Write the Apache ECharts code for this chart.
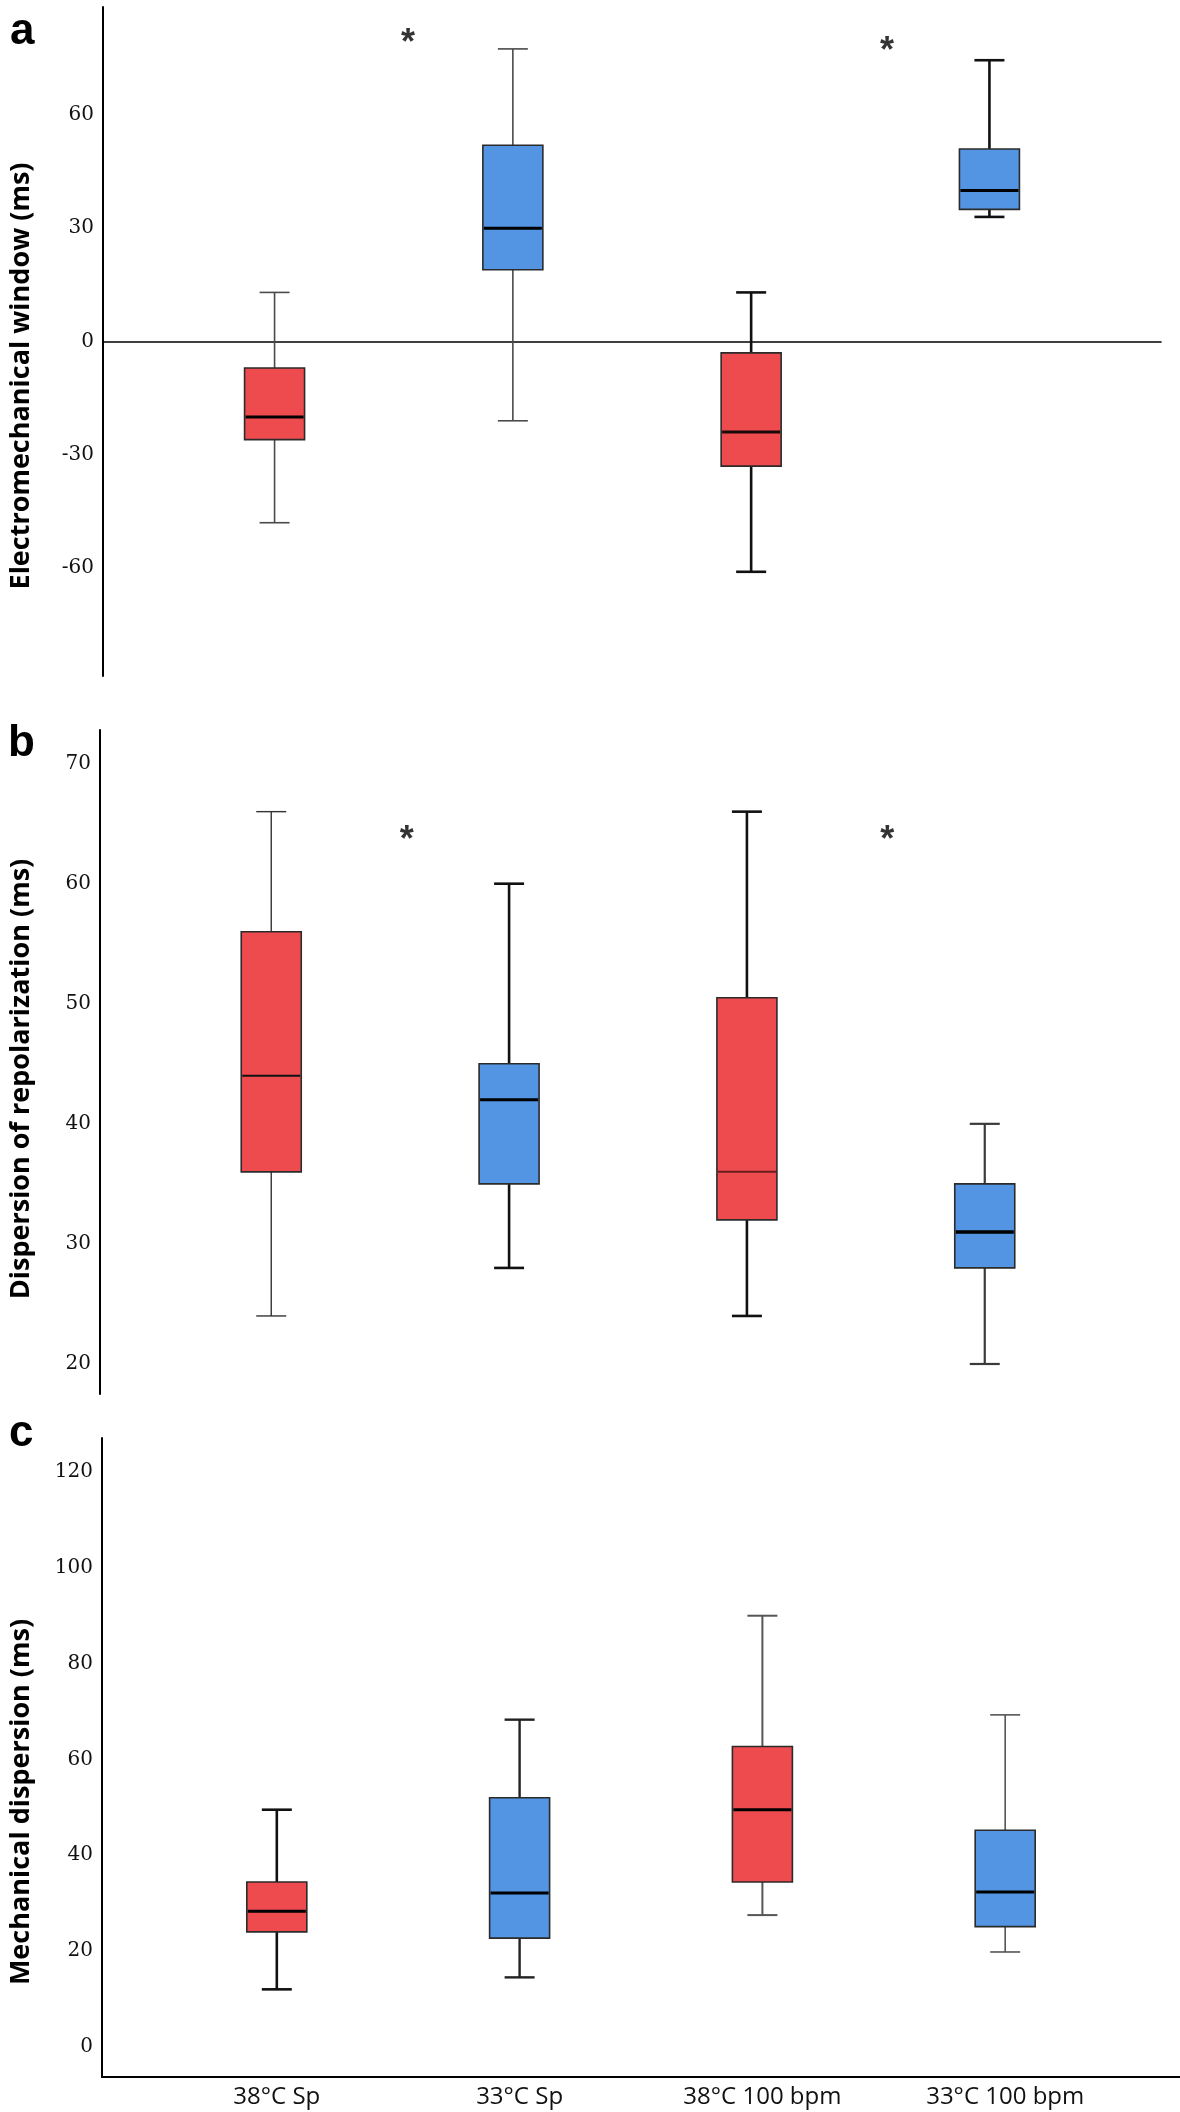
<!DOCTYPE html>
<html>
<head>
<meta charset="utf-8">
<script src="https://cdn.jsdelivr.net/npm/echarts@6/dist/echarts.min.js"></script>
<style>
html,body{margin:0;padding:0;background:#ffffff;}
#chart{width:1180px;height:2112px;}
</style>
</head>
<body>
<div id="chart"></div>
<script>
// ---------------- data ----------------
const categories = ['38°C Sp', '33°C Sp', '38°C 100 bpm', '33°C 100 bpm'];
// each row: [min, Q1, median, Q3, max]
const emWindow = [
  [-48, -26, -20, -7, 13],
  [-21, 19, 30, 52, 77.5],
  [-61, -33, -24, -3, 13],
  [33, 35, 40, 51, 74.5]
];
const repolDispersion = [
  [24, 36, 44, 56, 66],
  [28, 35, 42, 45, 60],
  [24, 32, 36, 50.5, 66],
  [20, 28, 31, 35, 40]
];
const mechDispersion = [
  [12, 24, 28.3, 34.4, 49.5],
  [14.5, 22.7, 32.1, 52, 68.3],
  [27.5, 34.4, 49.5, 62.7, 90],
  [19.8, 25.1, 32.3, 45.2, 69.3]
];
const emWindowTicks = [-60, -30, 0, 30, 60];
const repolTicks = [20, 30, 40, 50, 60, 70];
const mechTicks = [0, 20, 40, 60, 80, 100, 120];
// significance markers: [category position, value]
const sigA = [[0.56, 80.9], [2.57, 78.9]];
const sigB = [[0.57, 64.2], [2.59, 64.2]];

// ---------------- styles ----------------
const RED = '#EE4B4F', BLUE = '#5394E3';
const fills = [RED, BLUE, RED, BLUE];
const boxStylesA = [
  {wc: '#4a4a4a', ww: 1.6, mc: '#000', mw: 3},
  {wc: '#4a4a4a', ww: 1.6, mc: '#000', mw: 3},
  {wc: '#111', ww: 2.6, mc: '#1a0a0a', mw: 3},
  {wc: '#111', ww: 2.6, mc: '#000', mw: 3}
];
const boxStylesB = [
  {wc: '#333', ww: 1.4, mc: '#111', mw: 2},
  {wc: '#111', ww: 2.6, mc: '#000', mw: 3},
  {wc: '#111', ww: 2.6, mc: '#6a1c1e', mw: 2},
  {wc: '#3a3a3a', ww: 2.2, mc: '#000', mw: 3.5}
];
const boxStylesC = [
  {wc: '#111', ww: 2.6, mc: '#000', mw: 3},
  {wc: '#222', ww: 2.4, mc: '#000', mw: 3},
  {wc: '#555', ww: 2, mc: '#000', mw: 3},
  {wc: '#555', ww: 1.6, mc: '#000', mw: 3}
];
const BOX_HALF = 30, CAP_HALF = 15;

function boxRenderer(styles) {
  return function (params, api) {
    const i = params.dataIndex;
    const x = api.value(0);
    const pMin = api.coord([x, api.value(1)]);
    const pQ1 = api.coord([x, api.value(2)]);
    const pMed = api.coord([x, api.value(3)]);
    const pQ3 = api.coord([x, api.value(4)]);
    const pMax = api.coord([x, api.value(5)]);
    const s = styles[i];
    const cx = pMed[0];
    const ws = {stroke: s.wc, lineWidth: s.ww};
    return {
      type: 'group',
      children: [
        {type: 'line', shape: {x1: cx, y1: pQ3[1], x2: cx, y2: pMax[1]}, style: ws},
        {type: 'line', shape: {x1: cx, y1: pQ1[1], x2: cx, y2: pMin[1]}, style: ws},
        {type: 'line', shape: {x1: cx - CAP_HALF, y1: pMax[1], x2: cx + CAP_HALF, y2: pMax[1]}, style: ws},
        {type: 'line', shape: {x1: cx - CAP_HALF, y1: pMin[1], x2: cx + CAP_HALF, y2: pMin[1]}, style: ws},
        {type: 'rect', shape: {x: cx - BOX_HALF, y: pQ3[1], width: 2 * BOX_HALF, height: pQ1[1] - pQ3[1]},
          style: {fill: fills[i], stroke: '#2b2b2b', lineWidth: 1.6}},
        {type: 'line', shape: {x1: cx - BOX_HALF + 1, y1: pMed[1], x2: cx + BOX_HALF - 1, y2: pMed[1]},
          style: {stroke: s.mc, lineWidth: s.mw}}
      ]
    };
  };
}

function boxSeries(idx, values, styles) {
  return {
    type: 'custom',
    xAxisIndex: idx, yAxisIndex: idx,
    data: values.map((v, i) => [i].concat(v)),
    encode: {x: 0, y: [1, 2, 3, 4, 5]},
    renderItem: boxRenderer(styles),
    clip: false,
    silent: true
  };
}

function sigSeries(idx, pts) {
  return {
    type: 'scatter',
    xAxisIndex: idx, yAxisIndex: idx,
    data: pts,
    symbolSize: 1,
    itemStyle: {color: 'rgba(0,0,0,0)'},
    silent: true,
    label: {
      show: true, position: 'inside', formatter: '*',
      fontFamily: 'Liberation Sans', fontWeight: 'bold', fontSize: 36, color: '#000',
      offset: [0, 8]
    }
  };
}

function yAxisDef(idx, min, max, ticks, splitNumber) {
  return {
    type: 'value', gridIndex: idx, min: min, max: max, splitNumber: splitNumber,
    axisLine: {show: true, onZero: false, lineStyle: {color: '#000', width: 2}},
    axisTick: {show: false},
    splitLine: {show: false},
    axisLabel: {
      customValues: ticks,
      formatter: function (v) {
        const r = Math.round(v * 1000) / 1000;
        return ticks.indexOf(r) >= 0 ? String(r) : '';
      },
      fontFamily: 'DejaVu Serif', fontSize: 20, color: '#111', margin: 9
    }
  };
}

function xAxisDef(idx, showLine, onZero, showLabels) {
  return {
    type: 'value', gridIndex: idx, min: -0.72, max: 3.72,
    minInterval: 1, maxInterval: 1,
    axisLine: {show: showLine, onZero: onZero, lineStyle: {color: '#000', width: onZero ? 1.6 : 2}},
    axisTick: {show: false},
    splitLine: {show: false},
    axisLabel: {
      show: showLabels,
      customValues: [0, 1, 2, 3],
      formatter: function (v) {
        const r = Math.round(v * 1000) / 1000;
        return (Number.isInteger(r) && r >= 0 && r < categories.length) ? categories[r] : '';
      },
      fontFamily: 'Open Sans', fontSize: 24, color: '#111', margin: 8
    }
  };
}

const chart = echarts.init(document.getElementById('chart'), null, {renderer: 'canvas'});

const titleFont = {fontFamily: 'Open Sans', fontWeight: 'bold', fontSize: 27, fill: '#000'};
const letterFont = {fontFamily: 'Liberation Sans', fontWeight: 'bold', fontSize: 44, fill: '#000'};

chart.setOption({
  animation: false,
  backgroundColor: '#ffffff',
  grid: [
    {left: 103, top: 7, width: 1058, height: 669},
    {left: 100, top: 730, width: 1056, height: 664},
    {left: 102, top: 1438, width: 1078, height: 639}
  ],
  xAxis: [
    xAxisDef(0, true, true, false),
    xAxisDef(1, false, false, false),
    xAxisDef(2, true, false, true)
  ],
  yAxis: [
    yAxisDef(0, -88.6, 88.6, emWindowTicks, 5),
    yAxisDef(1, 17.5, 72.8, repolTicks, 5),
    yAxisDef(2, -6.3, 127.1, mechTicks, 7)
  ],
  series: [
    boxSeries(0, emWindow, boxStylesA),
    boxSeries(1, repolDispersion, boxStylesB),
    boxSeries(2, mechDispersion, boxStylesC),
    sigSeries(0, sigA),
    sigSeries(1, sigB)
  ],
  graphic: [
    {type: 'text', left: 10, top: 10, style: Object.assign({text: 'a'}, letterFont)},
    {type: 'text', left: 8, top: 722, style: Object.assign({text: 'b'}, letterFont)},
    {type: 'text', left: 9, top: 1412, style: Object.assign({text: 'c'}, letterFont)},
    {type: 'text', x: 21, y: 376, rotation: Math.PI / 2,
      style: Object.assign({text: 'Electromechanical window (ms)', align: 'center', verticalAlign: 'middle'}, titleFont)},
    {type: 'text', x: 21, y: 1079, rotation: Math.PI / 2,
      style: Object.assign({text: 'Dispersion of repolarization (ms)', align: 'center', verticalAlign: 'middle'}, titleFont)},
    {type: 'text', x: 21, y: 1802, rotation: Math.PI / 2,
      style: Object.assign({text: 'Mechanical dispersion (ms)', align: 'center', verticalAlign: 'middle'}, titleFont)}
  ]
});
</script>
</body>
</html>
